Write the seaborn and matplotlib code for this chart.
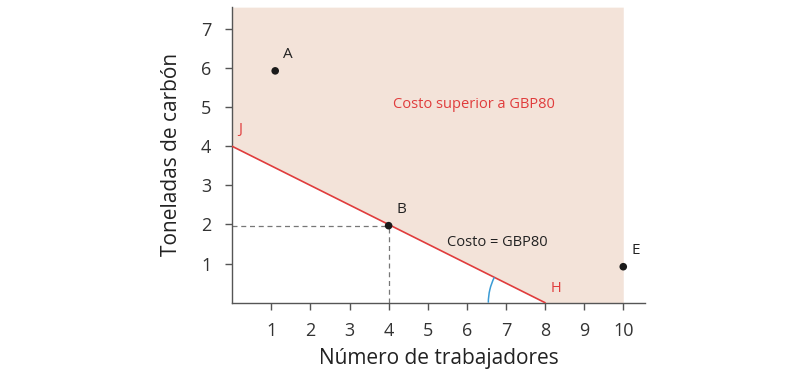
import numpy as np
import pandas as pd
import matplotlib.pyplot as plt
from matplotlib.patches import Arc
import seaborn as sns

# data
iso_x = [0, 8]          # isocost line J -> H
iso_y = [4, 0]
point_names = ['A', 'B', 'E']
point_x = [1.1, 4, 10]
point_y = [5.93, 1.97, 0.92]
x_ticks = [1, 2, 3, 4, 5, 6, 7, 8, 9, 10]
y_ticks = [1, 2, 3, 4, 5, 6, 7]

sns.set_style('ticks')
plt.rcParams['font.family'] = ['Open Sans', 'DejaVu Sans']

red = '#e03c3c'
grey = '#555555'

fig = plt.figure(figsize=(8.09, 3.76), dpi=100)
ax = fig.add_axes([0.287, 0.195, 0.51, 0.786])
xmax, ymax = 10.55, 7.56

# shaded region (cost above GBP80)
ax.fill_between([0, 8, 10], [4, 0, 0], ymax, color='#f3e3d9', lw=0, zorder=0)

# isocost line
line_df = pd.DataFrame({'x': iso_x, 'y': iso_y})
sns.lineplot(data=line_df, x='x', y='y', color=red, lw=1.2, ax=ax, zorder=3)

# dashed guides to B
ax.plot([0, point_x[1]], [point_y[1], point_y[1]], ls=(0, (4, 3)), color='#777777', lw=0.9, zorder=2)
ax.plot([point_x[1], point_x[1]], [0, point_y[1]], ls=(0, (4, 3)), color='#777777', lw=0.9, zorder=2)

# points
pts = pd.DataFrame({'name': point_names, 'x': point_x, 'y': point_y})
sns.scatterplot(data=pts, x='x', y='y', color='#1a1a1a', s=30, edgecolor='none', ax=ax, zorder=4)
for nm, px, py in zip(point_names, point_x, point_y):
    ax.text(px + 0.2, py + 0.22, nm, fontsize=11, color='#222222', ha='left', va='bottom')

# angle arc at H
slope_deg = np.degrees(np.arctan2(4, 8))
ax.add_patch(Arc((8, 0), 2.9, 2.9, theta1=180 - slope_deg, theta2=180, color='#3a9bd5', lw=1.1, zorder=3))

ax.text(0.15, 4.25, 'J', color=red, fontsize=10.5, ha='left', va='bottom')
ax.text(8.15, 0.18, 'H', color=red, fontsize=10.5, ha='left', va='bottom')
ax.text(4.1, 5.08, 'Costo superior a GBP80', color=red, fontsize=10.5, ha='left', va='center')
ax.text(5.5, 1.55, 'Costo = GBP80', color='#222222', fontsize=10.5, ha='left', va='center')

ax.set_xlim(0, xmax)
ax.set_ylim(0, ymax)
ax.set_xticks(x_ticks)
ax.set_yticks(y_ticks)
ax.tick_params(axis='both', length=5, width=1, color=grey, labelsize=13, labelcolor='#333333')
ax.tick_params(axis='x', pad=9)
ax.tick_params(axis='y', pad=10)
for s in ['top', 'right']:
    ax.spines[s].set_visible(False)
for s in ['left', 'bottom']:
    ax.spines[s].set_color(grey)
    ax.spines[s].set_linewidth(1)
ax.set_xlabel('Número de trabajadores', fontsize=15, color='#222222', labelpad=6)
ax.set_ylabel('Toneladas de carbón', fontsize=15, color='#222222', labelpad=14)

fig.savefig('out.png', dpi=100)
